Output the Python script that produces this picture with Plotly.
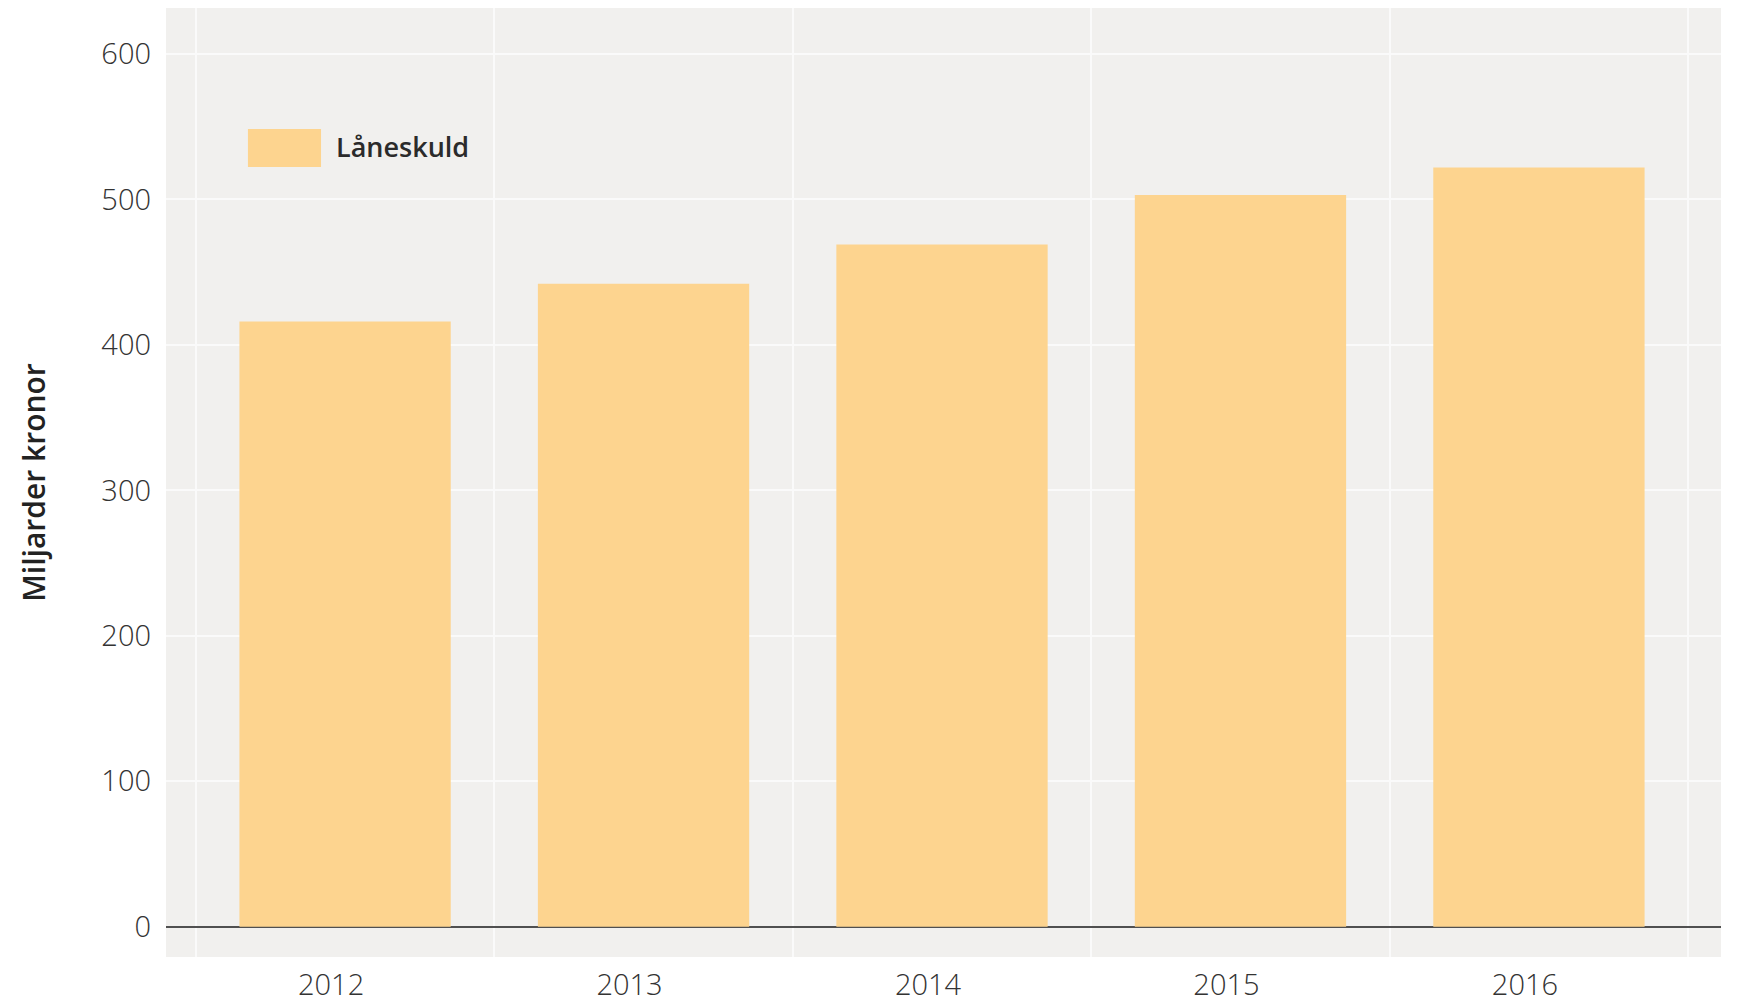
import plotly.graph_objects as go

years = ["2012", "2013", "2014", "2015", "2016"]
laneskuld = [416, 442, 469, 503, 522]
series_name = "Låneskuld"
y_title = "Miljarder kronor"
y_ticks = [0, 100, 200, 300, 400, 500, 600]

BAR = "#fdd48f"
BG = "#f1f0ee"
FONT = "Open Sans"

fig = go.Figure()
fig.add_trace(go.Bar(
    x=years, y=laneskuld, name=series_name,
    marker=dict(color=BAR, line=dict(width=0)),
    width=0.708, showlegend=False, hoverinfo="x+y",
))

# custom legend (large swatch like the reference)
fig.add_shape(type="rect", xref="paper", yref="paper",
              x0=0.0527, x1=0.0997, y0=0.8325, y1=0.8725,
              fillcolor=BAR, line=dict(width=0), layer="above")
fig.add_annotation(xref="paper", yref="paper", x=0.108, y=0.8545,
                   xanchor="left", yanchor="middle", showarrow=False,
                   text=series_name,
                   font=dict(family=FONT, size=27, color="#2b2b2b", weight=600))

fig.update_layout(
    width=1745, height=1004,
    margin=dict(l=166, r=24, t=8, b=47),
    paper_bgcolor="white", plot_bgcolor=BG,
    font=dict(family=FONT, color="#333333"),
    bargap=0.29,
)
fig.update_xaxes(
    type="category", range=[-0.6, 4.61], tickson="boundaries",
    showgrid=True, gridcolor="#fafafa", gridwidth=2,
    ticks="", showline=False, zeroline=False, automargin=False,
    tickfont=dict(family=FONT, size=29, color="#333333", weight=300),
    ticklabelshift=-14, ticklabelstandoff=8,
)
fig.update_yaxes(
    range=[-20.8, 631.6], tickvals=y_ticks, automargin=False,
    showgrid=True, gridcolor="#fafafa", gridwidth=2,
    zeroline=True, zerolinecolor="#505050", zerolinewidth=2.2,
    ticks="", showline=False,
    tickfont=dict(family=FONT, size=29, color="#333333", weight=300),
    ticklabelstandoff=14,
    title=dict(text=y_title, standoff=46,
               font=dict(family=FONT, size=30, color="#222222", weight=600)),
)

fig.write_html("out.html")
